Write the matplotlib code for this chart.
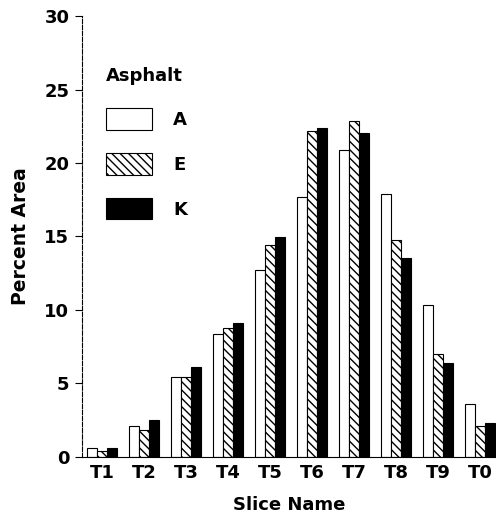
import matplotlib
matplotlib.use("Agg")
import matplotlib.pyplot as plt
import numpy as np

# ################### DATA ####################
slices = ["T1", "T2", "T3", "T4", "T5", "T6", "T7", "T8", "T9", "T0"]
asphalt_a = [0.6, 2.1, 5.4, 8.35, 12.7, 17.7, 20.9, 17.9, 10.3, 3.6]
asphalt_e = [0.4, 1.85, 5.4, 8.75, 14.4, 22.2, 22.85, 14.75, 7.0, 2.1]
asphalt_k = [0.6, 2.5, 6.1, 9.1, 14.95, 22.35, 22.05, 13.5, 6.4, 2.3]

# ################### PLOT ####################
plt.rcParams["font.family"] = ["DejaVu Sans"]
plt.rcParams["hatch.linewidth"] = 1.0

fig = plt.figure(figsize=(4.96, 5.19), dpi=100)
ax = fig.add_axes([0.165, 0.12, 0.835, 0.849])

x = np.arange(len(slices))
w = 0.24
ax.bar(x - w, asphalt_a, w, color="white", edgecolor="black", linewidth=0.8, label="A")
ax.bar(x, asphalt_e, w, color="white", edgecolor="black", linewidth=0.8,
       hatch="\\\\\\\\", label="E")
ax.bar(x + w, asphalt_k, w, color="black", edgecolor="black", linewidth=0.8, label="K")

ax.set_xlim(-0.48, 9.38)
ax.set_ylim(0, 30)
ax.set_yticks([0, 5, 10, 15, 20, 25, 30])
ax.set_xticks(x)
ax.set_xticklabels(slices)

for s in ["top", "right"]:
    ax.spines[s].set_visible(False)
ax.spines["left"].set_linestyle((0, (4, 1.5)))
ax.spines["left"].set_linewidth(0.8)
ax.spines["bottom"].set_linewidth(0.8)

fs = 13
ax.tick_params(axis="y", length=5, width=0.8, labelsize=fs, pad=4)
ax.tick_params(axis="x", length=0, labelsize=fs, pad=5)
for lbl in ax.get_xticklabels() + ax.get_yticklabels():
    lbl.set_fontweight("bold")

ax.set_ylabel("Percent Area", fontsize=13.5, fontweight="bold", labelpad=10)
ax.set_xlabel("Slice Name", fontsize=fs, fontweight="bold", labelpad=10)

leg = ax.legend(title="Asphalt", loc="upper left", bbox_to_anchor=(0.02, 0.922),
                frameon=False, handlelength=2.5, handleheight=1.45,
                labelspacing=1.3, handletextpad=1.2,
                prop={"size": fs, "weight": "bold"},
                title_fontproperties={"size": fs, "weight": "bold"})
leg._legend_box.align = "left"

fig.savefig("out.png", dpi=100)
